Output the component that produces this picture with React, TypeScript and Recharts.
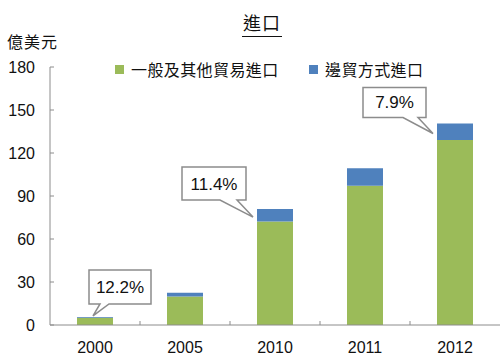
import { BarChart, Bar, XAxis, YAxis, LabelList } from "recharts";

const YEARS = ["2000", "2005", "2010", "2011", "2012"];
const GENERAL = [5.0, 19.8, 72.2, 97.2, 129.0];
const BORDER = [0.6, 2.7, 8.7, 12.1, 11.6];
const SHARE = ["12.2%", "", "11.4%", "", "7.9%"];
const Y_TICKS = [0, 30, 60, 90, 120, 150, 180];
const SERIES_NAMES = ["一般及其他貿易進口", "邊貿方式進口"];

const GREEN = "#9BBB59";
const BLUE = "#4F81BD";
const AXIS = "#8C8C8C";
const NUM_FONT = "'Liberation Sans', Arial, sans-serif";
const CJK_FONT = "'Noto Sans CJK TC', 'Noto Sans CJK SC', sans-serif";

const data = YEARS.map((year, i) => ({
  year,
  general: GENERAL[i],
  border: BORDER[i],
  share: SHARE[i],
}));

// callout box placement relative to the bar (left edge / top edge)
const CALLOUT: Record<number, { bx: number; by: number; w: number; h: number; tx: number; ty: number; b1: number; b2: number }> = {
  0: { bx: 12, by: -47, w: 62, h: 34, tx: 16, ty: -1, b1: 23, b2: 32 },
  2: { bx: -75, by: -42, w: 64, h: 33, tx: -4, ty: 8, b1: -37, b2: -20 },
  4: { bx: -74, by: -36, w: 63, h: 30, tx: -4, ty: 10, b1: -34, b2: -19 },
};

function Callout(props: any) {
  const { x, y, index, value } = props;
  const c = CALLOUT[index];
  if (!c || !value) return null;
  const left = x + c.bx;
  const top = y + c.by;
  const right = left + c.w;
  const bottom = top + c.h;
  const d = `M${left},${top} H${right} V${bottom} H${x + c.b2} L${x + c.tx},${y + c.ty} L${x + c.b1},${bottom} H${left} Z`;
  return (
    <g>
      <path d={d} fill="#fff" stroke={AXIS} strokeWidth={1.5} />
      <text
        x={left + c.w / 2}
        y={top + c.h / 2 + 6}
        textAnchor="middle"
        fontFamily={NUM_FONT}
        fontSize={17}
        fill="#111"
      >
        {value}
      </text>
    </g>
  );
}

function YTick(props: any) {
  const { x, y, payload } = props;
  return (
    <g>
      <text x={x} y={y + 6} textAnchor="end" fontFamily={NUM_FONT} fontSize={16} fill="#111">
        {payload.value}
      </text>
      <line x1={x + 15} x2={x + 19} y1={y} y2={y} stroke={AXIS} />
    </g>
  );
}

function XTick(props: any) {
  const { x, y, payload, index } = props;
  return (
    <g>
      <text x={x} y={y + 28} textAnchor="middle" fontFamily={NUM_FONT} fontSize={16} fill="#111">
        {payload.value}
      </text>
      {index < YEARS.length - 1 && (
        <line x1={x + 45} x2={x + 45} y1={y} y2={y - 4} stroke={AXIS} />
      )}
    </g>
  );
}

function LegendBox() {
  const items = [
    { label: SERIES_NAMES[0], color: GREEN, width: 194 },
    { label: SERIES_NAMES[1], color: BLUE, width: 120 },
  ];
  return (
    <div
      style={{
        position: "absolute",
        left: 115,
        top: 61,
        display: "flex",
        alignItems: "center",
        fontFamily: CJK_FONT,
        fontSize: 16,
        letterSpacing: 0.4,
        lineHeight: 1,
        color: "#111",
      }}
    >
      {items.map((it) => (
        <div key={it.label} style={{ display: "flex", alignItems: "center", width: it.width }}>
          <span style={{ display: "inline-block", width: 9, height: 9, background: it.color, marginRight: 7 }} />
          <span>{it.label}</span>
        </div>
      ))}
    </div>
  );
}

export default function App() {
  return (
    <div style={{ position: "absolute", left: 0, top: 0, width: 500, height: 357, background: "#fff" }}>
      <BarChart width={500} height={357} data={data} margin={{ top: 67, right: 0, bottom: 2, left: 0 }}>
        <XAxis
          dataKey="year"
          height={30}
          axisLine={{ stroke: AXIS }}
          tickLine={false}
          tickSize={0}
          tickMargin={0}
          tick={<XTick />}
          interval={0}
        />
        <YAxis
          width={50}
          domain={[0, 180]}
          ticks={Y_TICKS}
          axisLine={{ stroke: AXIS }}
          tickLine={false}
          tickSize={0}
          tickMargin={15}
          tick={<YTick />}
          interval={0}
        />
        <Bar dataKey="general" stackId="a" fill={GREEN} barSize={36} isAnimationActive={false} />
        <Bar dataKey="border" stackId="a" fill={BLUE} barSize={36} isAnimationActive={false}>
          <LabelList dataKey="share" content={<Callout />} />
        </Bar>
      </BarChart>
      <div
        style={{
          position: "absolute",
          left: 242,
          top: 13,
          width: 40,
          height: 23,
          borderBottom: "1px solid #111",
          textAlign: "center",
          fontFamily: CJK_FONT,
          fontSize: 18,
          letterSpacing: 1,
          lineHeight: 1,
          color: "#111",
        }}
      >
        進口
      </div>
      <div
        style={{
          position: "absolute",
          left: 7,
          top: 33,
          fontFamily: CJK_FONT,
          fontSize: 16,
          letterSpacing: 1,
          lineHeight: 1,
          color: "#111",
        }}
      >
        億美元
      </div>
      <LegendBox />
    </div>
  );
}
